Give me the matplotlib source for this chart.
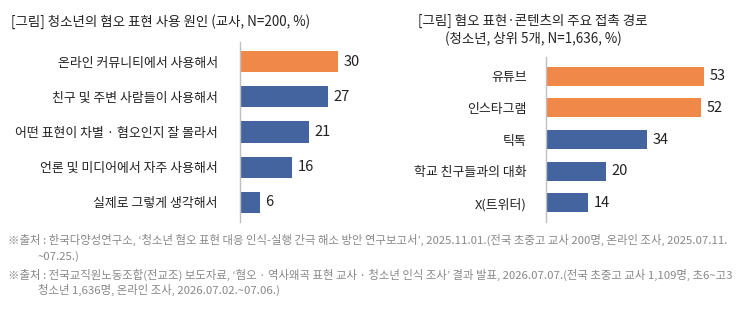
import matplotlib.pyplot as plt

plt.rcParams['font.family'] = ['Noto Sans CJK KR', 'DejaVu Sans']

# left chart: reasons (teachers)
left_title = "[그림] 청소년의 혐오 표현 사용 원인 (교사, N=200, %)"
left_labels = ["온라인 커뮤니티에서 사용해서", "친구 및 주변 사람들이 사용해서",
               "어떤 표현이 차별 · 혐오인지 잘 몰라서", "언론 및 미디어에서 자주 사용해서",
               "실제로 그렇게 생각해서"]
left_values = [30, 27, 21, 16, 6]
left_highlight = [True, False, False, False, False]

# right chart: channels (youth)
right_title = "[그림] 혐오 표현·콘텐츠의 주요 접촉 경로\n(청소년, 상위 5개, N=1,636, %)"
right_labels = ["유튜브", "인스타그램", "틱톡", "학교 친구들과의 대화", "X(트위터)"]
right_values = [53, 52, 34, 20, 14]
right_highlight = [True, True, False, False, False]

notes = [
    "※출처 : 한국다양성연구소, ‘청소년 혐오 표현 대응 인식-실행 간극 해소 방안 연구보고서’, 2025.11.01.(전국 초중고 교사 200명, 온라인 조사, 2025.07.11.",
    "~07.25.)",
    "※출처 : 전국교직원노동조합(전교조) 보도자료, ‘혐오 · 역사왜곡 표현 교사 · 청소년 인식 조사’ 결과 발표, 2026.07.07.(전국 초중고 교사 1,109명, 초6~고3",
    "청소년 1,636명, 온라인 조사, 2026.07.02.~07.06.)",
]

ORANGE = "#F0884A"
BLUE = "#43649F"
W, H = 737, 310

fig = plt.figure(figsize=(W / 100, H / 100), dpi=100)


def px_axes(x0, y0, x1, y1):
    # pixel box (from top-left) -> figure axes
    return fig.add_axes([x0 / W, 1 - y1 / H, (x1 - x0) / W, (y1 - y0) / H])


def draw_bars(ax, labels, values, highlight, xmax, ylim, pad):
    colors = [ORANGE if h else BLUE for h in highlight]
    ypos = range(len(values))
    ax.barh(ypos, values, height=0.6, color=colors)
    ax.set_xlim(0, xmax)
    ax.set_ylim(*ylim)
    ax.set_yticks(list(ypos))
    ax.set_yticklabels(labels, fontsize=9.3, color="#222222")
    ax.tick_params(axis="y", length=0, pad=pad)
    ax.set_xticks([])
    for s in ["top", "right", "bottom"]:
        ax.spines[s].set_visible(False)
    ax.spines["left"].set_color("#BFBFBF")
    ax.spines["left"].set_linewidth(1)
    for y, v in zip(ypos, values):
        ax.annotate(str(v), (v, y), xytext=(4, 0), textcoords="offset points",
                    va="center", ha="left", fontsize=10.5, color="#222222")


axl = px_axes(240, 42, 370, 222)
draw_bars(axl, left_labels, left_values, left_highlight, 130 / 3.27, (4.57, -0.57), 16)

axr = px_axes(546, 57, 726, 222)
draw_bars(axr, right_labels, right_values, right_highlight, 180 / 2.98, (4.6, -0.6), 14)

fig.text(11 / W, 1 - 22 / H, left_title, fontsize=9.7, color="#222222", va="center", ha="left")
fig.text(533 / W, 1 - 30 / H, right_title, fontsize=9.7, color="#222222", va="center",
         ha="center", linespacing=1.25)

for line, x, y in zip(notes, [8, 38, 8, 38], [240, 257, 275, 290]):
    fig.text(x / W, 1 - y / H, line, fontsize=8.2, color="#888888", va="center", ha="left")

fig.savefig("out.png", dpi=100)
